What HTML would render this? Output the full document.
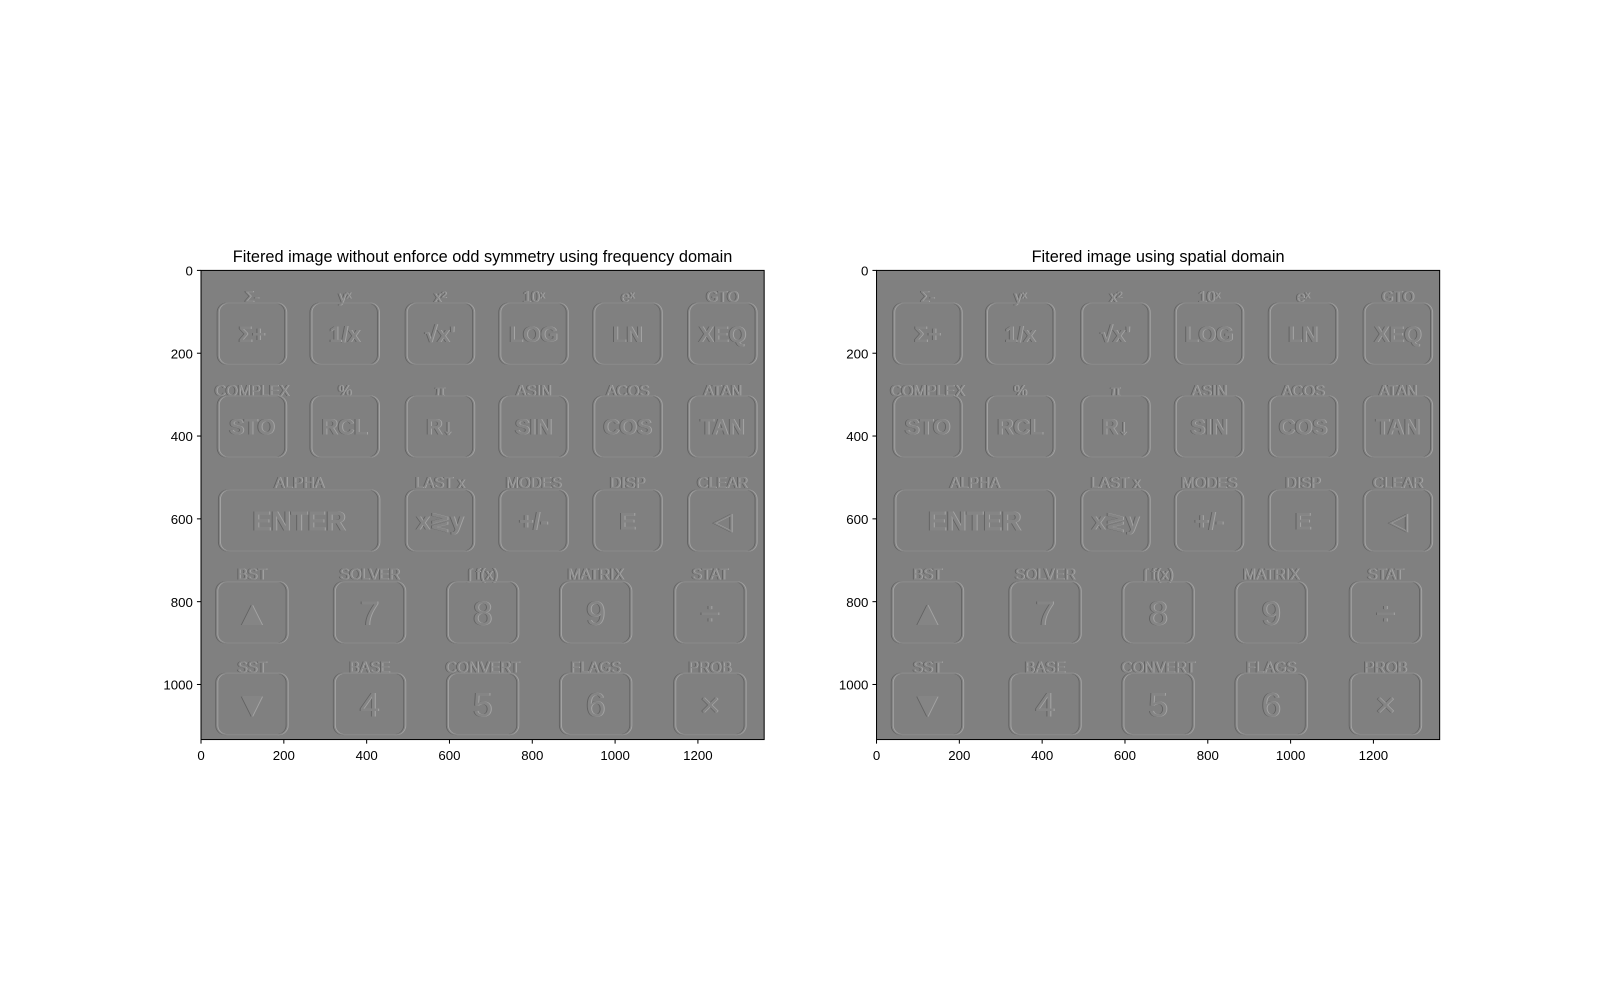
<!DOCTYPE html>
<html><head><meta charset="utf-8"><style>
body{margin:0;background:#fff;width:1600px;height:1000px;overflow:hidden;font-family:"Liberation Sans","DejaVu Sans",sans-serif}
text{font-family:"Liberation Sans","DejaVu Sans",sans-serif}
</style></head><body>
<svg id="fig" width="1600" height="1000" xmlns="http://www.w3.org/2000/svg">
<defs>
<filter id="emb" x="-20%" y="-20%" width="140%" height="140%">
<feOffset in="SourceAlpha" dx="-1" dy="0" result="o1"/>
<feFlood flood-color="#626262"/><feComposite in2="o1" operator="in" result="d"/>
<feOffset in="SourceAlpha" dx="1" dy="0" result="o2"/>
<feFlood flood-color="#a4a4a4"/><feComposite in2="o2" operator="in" result="l"/>
<feMerge><feMergeNode in="d"/><feMergeNode in="l"/><feMergeNode in="SourceGraphic"/></feMerge>
</filter>
</defs>
<g id="root" transform="scale(1.0204)"></g>
</svg>
<script>
const titles=["Fitered image without enforce odd symmetry using frequency domain","Fitered image using spatial domain"];
const axLeft=[197,859];
const xTicks=[0,200,400,600,800,1000,1200];
const yTicks=[0,200,400,600,800,1000];
const imgW=1360, imgH=1133;
const keyCx=[123,347,577,803,1030,1259];
const row1=["Σ+","1/x","√x'","LOG","LN","XEQ"];
const row1s=["Σ-","yˣ","x²","10ˣ","eˣ","GTO"];
const row2=["STO","RCL","R↓","SIN","COS","TAN"];
const row2s=["COMPLEX","%","π","ASIN","ACOS","ATAN"];
const row3Cx=[237,577,803,1030,1259];
const row3=["ENTER","x≷y","+/-","E","◁"];
const row3s=["ALPHA","LAST x","MODES","DISP","CLEAR"];
const row45Cx=[123,407,680,953,1229];
const row4=["▲","7","8","9","÷"];
const row4s=["BST","SOLVER","∫ f(x)","MATRIX","STAT"];
const row5=["▼","4","5","6","×"];
const row5s=["SST","BASE","CONVERT","FLAGS","PROB"];
const rowY=[153,377,604,826,1047];
const rowLabY=[64,291,513,734,959];

const NS="http://www.w3.org/2000/svg";
const svg=document.getElementById('root');
const top0=265, sc=0.4058;
function mk(t,a,p){const e=document.createElementNS(NS,t);for(const k in a)e.setAttribute(k,a[k]);(p||svg).appendChild(e);return e;}
for(let i=0;i<2;i++){
  const x0=axLeft[i];
  const X=v=>x0+v*sc, Y=v=>top0+v*sc;
  const g=mk('g',{});
  
  
  mk('rect',{x:X(0),y:Y(0),width:imgW*sc,height:imgH*sc,fill:'#808080'},g);
  const keys=mk('g',{filter:'url(#emb)'},g);
  function key(cx,cy,w,lab,fs,bold){
    mk('rect',{x:X(cx-w/2),y:Y(cy-74),width:w*sc,height:148*sc,rx:9,fill:'none',stroke:'#858585','stroke-width':1},keys);
    const t=mk('text',{x:X(cx),y:Y(cy)+fs*0.36,'text-anchor':'middle','font-size':fs,fill:'#858585','font-weight':bold?'bold':'normal'},keys);t.textContent=lab;
  }
  function lbl(cx,cy,s){const t=mk('text',{x:X(cx),y:Y(cy)+5,'text-anchor':'middle','font-size':15,fill:'#878787'},keys);t.textContent=s;}
  for(let k=0;k<6;k++){key(keyCx[k],rowY[0],163,row1[k],22,true);lbl(keyCx[k],rowLabY[0],row1s[k]);}
  for(let k=0;k<6;k++){key(keyCx[k],rowY[1],163,row2[k],22,true);lbl(keyCx[k],rowLabY[1],row2s[k]);}
  for(let k=0;k<5;k++){key(row3Cx[k],rowY[2],k==0?385:163,row3[k],k==0?27:24,true);lbl(row3Cx[k],rowLabY[2],row3s[k]);}
  for(let k=0;k<5;k++){key(row45Cx[k],rowY[3],170,row4[k],34,false);lbl(row45Cx[k],rowLabY[3],row4s[k]);}
  for(let k=0;k<5;k++){key(row45Cx[k],rowY[4],170,row5[k],34,false);lbl(row45Cx[k],rowLabY[4],row5s[k]);}
  const fr=mk('rect',{x:X(0),y:Y(0),width:imgW*sc,height:imgH*sc,fill:'none',stroke:'#000','stroke-width':1},g);
  
  
  xTicks.forEach(v=>{mk('line',{x1:X(v),x2:X(v),y1:Y(imgH),y2:Y(imgH)+4,stroke:'#000'},g);
    const t=mk('text',{x:X(v),y:Y(imgH)+20,'text-anchor':'middle','font-size':13},g);t.textContent=v;
    
    });
  yTicks.forEach(v=>{mk('line',{x1:X(0)-4,x2:X(0),y1:Y(v),y2:Y(v),stroke:'#000'},g);
    const t=mk('text',{x:X(0)-8,y:Y(v)+5,'text-anchor':'end','font-size':13},g);t.textContent=v;
    
    });
  const tt=mk('text',{x:X(imgW/2),y:257,'text-anchor':'middle','font-size':16},g);tt.textContent=titles[i];
  
  
}
</script>
</body></html>
